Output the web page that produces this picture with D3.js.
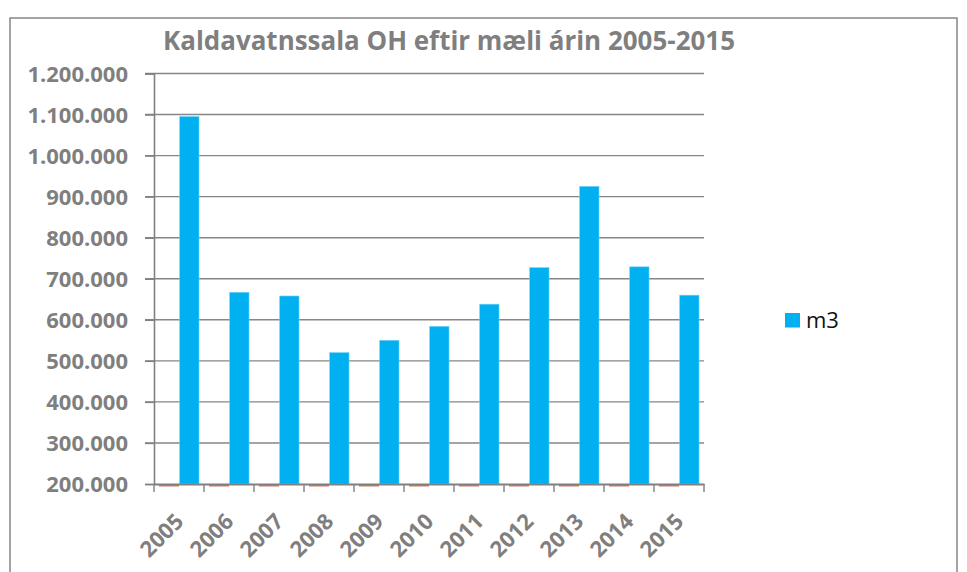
<!DOCTYPE html>
<html>
<head>
<meta charset="utf-8">
<script src="https://cdn.jsdelivr.net/npm/d3@7"></script>
<style>
  html, body { margin: 0; padding: 0; background: #fff; }
  svg { display: block; }
</style>
</head>
<body>
<script>
const title = "Kaldavatnssala OH eftir mæli árin 2005-2015";
const years = ["2005","2006","2007","2008","2009","2010","2011","2012","2013","2014","2015"];
const m3 = [1095000, 667000, 658000, 520000, 550000, 584000, 638000, 727000, 925000, 729000, 660000];
const blank = [0, 0, 0, 0, 0, 0, 0, 0, 0, 0, 0];
const yTicks = [200000, 300000, 400000, 500000, 600000, 700000, 800000, 900000, 1000000, 1100000, 1200000];
const seriesName = "m3";

(function () {
const W = 967, H = 572;
const svg = d3.select("body").append("svg").attr("width", W).attr("height", H);

// chart border
svg.append("rect").attr("x", 10).attr("y", 18).attr("width", 947).attr("height", 600)
  .attr("fill", "#fff").attr("stroke", "#868686").attr("stroke-width", 1.5);

const pLeft = 154, pRight = 704, pTop = 73.5, pBottom = 484;
const x = d3.scaleBand().domain(years).range([pLeft, pRight]).padding(0);
const y = d3.scaleLinear().domain([200000, 1200000]).range([pBottom, pTop]);
const fmt = v => d3.format(",")(v).replace(/,/g, ".");

const gray = "#808080";

// gridlines
svg.append("g").selectAll("line").data(yTicks.slice(1)).join("line")
  .attr("x1", pLeft - 9).attr("x2", pRight)
  .attr("y1", d => y(d)).attr("y2", d => y(d))
  .attr("stroke", "#868686").attr("stroke-width", 1.4);

// y axis
const yAxis = svg.append("g").attr("transform", `translate(${pLeft},0)`)
  .call(d3.axisLeft(y).tickValues(yTicks).tickSize(9).tickFormat(fmt));
yAxis.select(".domain").attr("stroke", gray).attr("stroke-width", 1.6);
yAxis.selectAll(".tick line").attr("stroke", gray).attr("stroke-width", 1.4);
yAxis.selectAll(".tick text")
  .attr("x", -26).attr("dy", "0.36em")
  .attr("fill", "#7f7f7f").attr("font-family", "Open Sans").attr("font-weight", "bold")
  .attr("font-size", 22);

// bars
const bw = 20, off = 5;
svg.append("g").selectAll("rect").data(m3).join("rect")
  .attr("x", (d, i) => x(years[i]) + off + bw + 0.7)
  .attr("y", d => y(d))
  .attr("width", bw - 0.7)
  .attr("height", d => y(200000) - y(d))
  .attr("fill", "#00B0F0").attr("stroke", "#6fd0f5").attr("stroke-width", 0.6);

// second (empty) series drawn at baseline
svg.append("g").selectAll("line").data(blank).join("line")
  .attr("x1", (d, i) => x(years[i]) + off)
  .attr("x2", (d, i) => x(years[i]) + off + bw)
  .attr("y1", d => y(Math.max(d, 200000)) + 1.8).attr("y2", d => y(Math.max(d, 200000)) + 1.8)
  .attr("stroke", "#C55A3A").attr("stroke-width", 1.2);

// x axis
const xAxis = svg.append("g").attr("transform", `translate(0,${pBottom})`)
  .call(d3.axisBottom(x).tickSize(0).tickFormat(""));
xAxis.select(".domain").attr("stroke", gray).attr("stroke-width", 2.2);
svg.append("g").selectAll("line").data(years.concat(["end"])).join("line")
  .attr("x1", (d, i) => pLeft + i * x.bandwidth()).attr("x2", (d, i) => pLeft + i * x.bandwidth())
  .attr("y1", pBottom).attr("y2", pBottom + 8)
  .attr("stroke", gray).attr("stroke-width", 1.4);

svg.append("g").selectAll("text").data(years).join("text")
  .attr("transform", d => `translate(${x(d) + x.bandwidth() / 2 - 5},${pBottom + 28}) rotate(-45)`)
  .attr("text-anchor", "end").attr("dy", "0.7em")
  .attr("fill", "#7f7f7f").attr("font-family", "Open Sans").attr("font-weight", "bold")
  .attr("font-size", 22)
  .text(d => d);

// title
svg.append("text").attr("x", 449).attr("y", 50).attr("text-anchor", "middle")
  .attr("fill", "#7f7f7f").attr("font-family", "Open Sans").attr("font-weight", "bold")
  .attr("font-size", 27).attr("textLength", 572).attr("lengthAdjust", "spacingAndGlyphs")
  .text(title);

// legend
const lg = svg.append("g").attr("transform", "translate(785,313)");
lg.append("rect").attr("width", 15).attr("height", 14.5).attr("fill", "#00B0F0");
lg.append("text").attr("x", 21).attr("y", 14.5).attr("fill", "#111")
  .attr("font-family", "Open Sans").attr("font-size", 22).text(seriesName);
})();
</script>
</body>
</html>
